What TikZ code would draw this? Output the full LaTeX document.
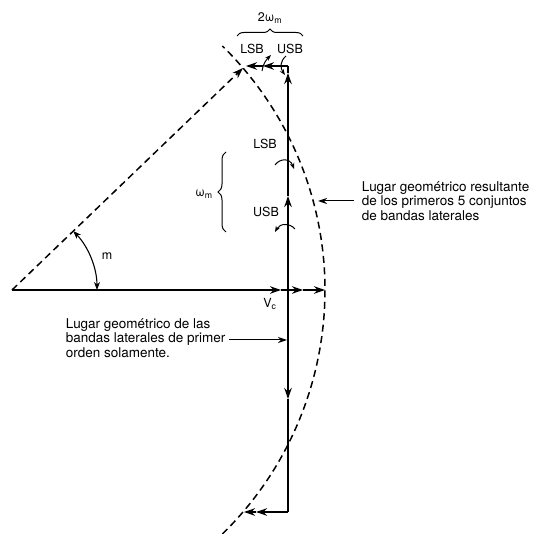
\documentclass[tikz,border=0pt]{standalone}
\usepackage{fontspec}
\setmainfont{TeX Gyre Heros}
\usetikzlibrary{arrows.meta,decorations.pathreplacing}
\begin{document}
\begin{tikzpicture}[x=1pt,y=-1pt,
  line width=1.6pt,
  tip/.style={-{Stealth[length=11pt,width=7.5pt]}},
  atip/.style={line width=1pt,-{Stealth[length=9pt,width=6pt]}},
  smalltip/.style={line width=1pt,-{Stealth[length=6pt,width=4.5pt]}},
  dsh/.style={line width=1.5pt,dash pattern=on 7pt off 4.5pt},
  lbl/.style={font=\fontsize{12.5}{14}\selectfont, inner sep=0pt},
  para/.style={font=\fontsize{13.5}{14.5}\selectfont, align=left, inner sep=0pt, anchor=west},
  brc/.style={decorate, line width=1pt}]
\useasboundingbox (0,0) rectangle (538,534);
% points
\coordinate (O) at (12,290);
\coordinate (C) at (288,290);
\coordinate (Vt) at (281,290);
\coordinate (H1) at (303,290);
\coordinate (R) at (325,290);
\coordinate (T) at (288,66);
\coordinate (Tu) at (288,73);
\coordinate (Um) at (288,196);
\coordinate (Dn) at (288,399);
\coordinate (B) at (288,512);
\coordinate (T1) at (263,66);
\coordinate (T2) at (246,66);
\coordinate (B1) at (256,512);
\coordinate (B2) at (244,512);
\coordinate (P) at (243,68);
\coordinate (Z) at (-16.5,290);
% phasors
\draw[tip] (O) -- (Vt);
\draw (Vt) -- (C);
\draw[tip] (C) -- (H1);
\draw[tip] (H1) -- (R);
\draw[tip] (C) -- (Um);
\draw[tip] (Um) -- (Tu);
\draw (Tu) -- (T);
\draw[tip] (T) -- (T1);
\draw[tip] (T1) -- (T2);
\draw[tip] (C) -- (Dn);
\draw (Dn) -- (B);
\draw[tip] (B) -- (B1);
\draw[tip] (B1) -- (B2);
% dashed resultant and locus
\draw[dsh,tip] (O) -- (P);
\draw[dsh] ([shift={(45.6:341.5)}]Z) arc[start angle=45.6, end angle=-45.6, radius=341.5];
% angle m
\draw[line width=1.1pt,{Stealth[length=8pt,width=6pt]}-{Stealth[length=8pt,width=6pt]}]
  ([shift={(0:85)}]O) arc[start angle=0, end angle=-43.9, radius=85];
% small rotation arrows
\draw[smalltip] (275,165) .. controls (280,158) and (290,158) .. (294,169);
\draw[smalltip] (295,229) .. controls (290,223) and (280,223) .. (275,232);
\draw[smalltip] (262,71) .. controls (263,64) and (266,60) .. (271,55);
\draw[smalltip] (286,56) .. controls (280,61) and (280,68) .. (285,75);
% braces
\draw[brc, decoration={brace, amplitude=7pt}] (237,36) -- (303,36);
\draw[brc, decoration={brace, amplitude=8pt}] (226,232) -- (226,152);
% labels
\node[lbl] (two) at (270,18) {2ω\textsubscript{m}};
\node[lbl] (lsbT) at (252,49) {LSB};
\node[lbl] (usbT) at (290,49) {USB};
\node[lbl] (lsbM) at (265,144) {LSB};
\node[lbl] (usbM) at (266,212) {USB};
\node[lbl] (wm) at (204,194) {ω\textsubscript{m}};
\node[lbl] (m) at (107,256) {m};
\node[lbl] (vc) at (270,304) {V\textsubscript{c}};
% annotations
\node[para] (rt) at (361,201) {Lugar geométrico resultante\\de los primeros 5 conjuntos\\de bandas laterales};
\coordinate (ra) at (318,201);
\draw[atip] ([xshift=-7pt]rt.west) -- (ra);
\node[para] (lt) at (65,338) {Lugar geométrico de las\\bandas laterales de primer\\orden solamente.};
\coordinate (la1) at (229,340);
\coordinate (la2) at (287,340);
\draw[atip] (la1) -- (la2);
\end{tikzpicture}
\end{document}
